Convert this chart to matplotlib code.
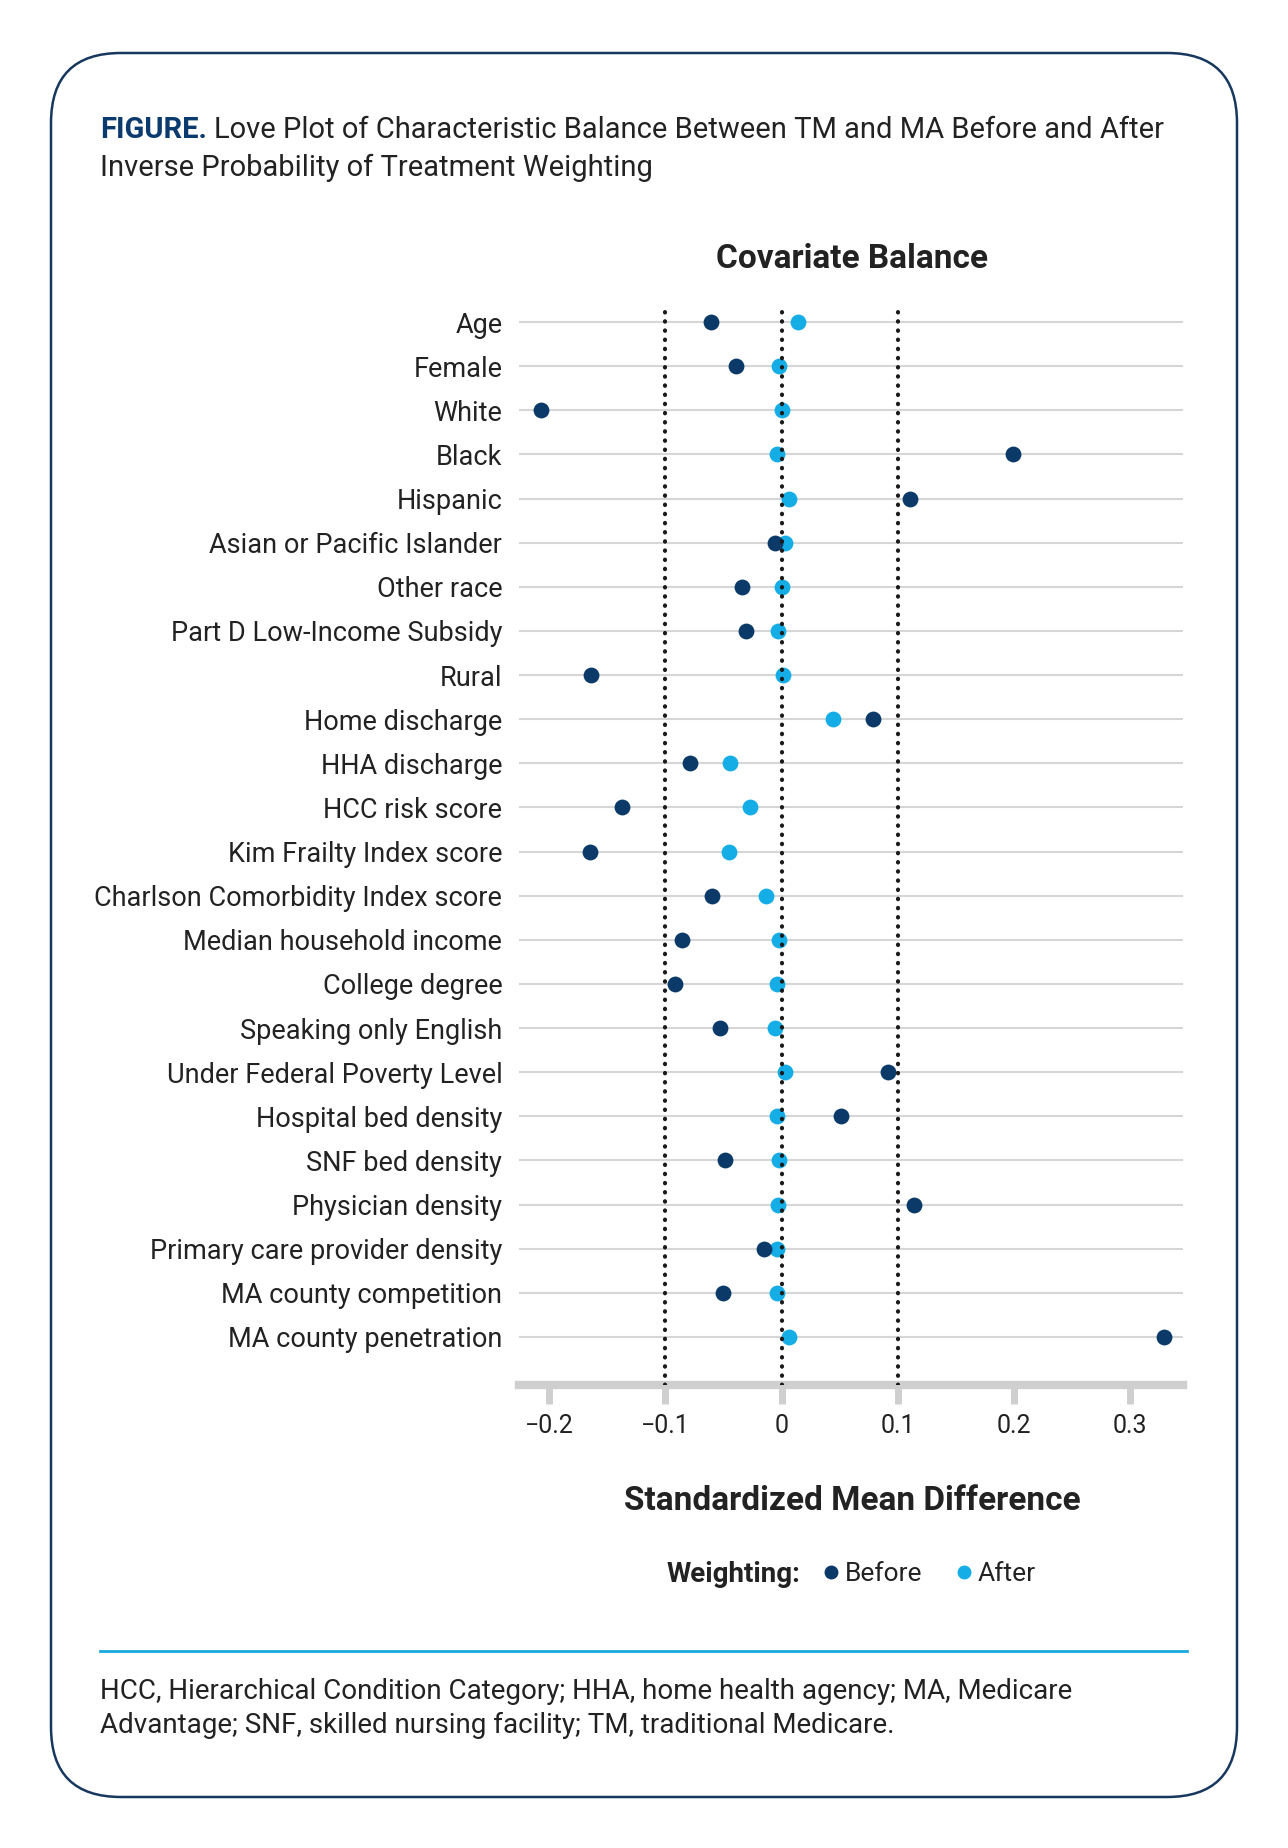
import numpy as np
import matplotlib
matplotlib.use('Agg')
import matplotlib.pyplot as plt
from matplotlib.patches import FancyBboxPatch
from matplotlib.lines import Line2D

plt.rcParams['font.family'] = ['Roboto', 'DejaVu Sans']

# data
covariates = ['Age', 'Female', 'White', 'Black', 'Hispanic', 'Asian or Pacific Islander',
              'Other race', 'Part D Low-Income Subsidy', 'Rural', 'Home discharge',
              'HHA discharge', 'HCC risk score', 'Kim Frailty Index score',
              'Charlson Comorbidity Index score', 'Median household income', 'College degree',
              'Speaking only English', 'Under Federal Poverty Level', 'Hospital bed density',
              'SNF bed density', 'Physician density', 'Primary care provider density',
              'MA county competition', 'MA county penetration']
smd_before = [-0.061, -0.039, -0.207, 0.199, 0.111, -0.006, -0.034, -0.031, -0.164, 0.079,
              -0.079, -0.137, -0.165, -0.060, -0.086, -0.092, -0.053, 0.092, 0.051, -0.049,
              0.114, -0.015, -0.050, 0.329]
smd_after = [0.014, -0.002, 0.000, -0.004, 0.006, 0.003, 0.000, -0.003, 0.001, 0.044,
             -0.044, -0.027, -0.045, -0.013, -0.002, -0.004, -0.006, 0.003, -0.004, -0.002,
             -0.003, -0.004, -0.004, 0.006]
thresholds = [-0.1, 0, 0.1]
tick_vals = [-0.2, -0.1, 0, 0.1, 0.2, 0.3]
tick_labels = ['\u22120.2', '\u22120.1', '0', '0.1', '0.2', '0.3']

dark = '#0b3a68'
light = '#15ade6'
navy = '#17375e'
txt = '#222222'

W, H = 1288, 1848
fig = plt.figure(figsize=(W / 100, H / 100), dpi=100)
fig.patch.set_facecolor('white')

# background layer in pixel coords: rounded frame + separator
bg = fig.add_axes([0, 0, 1, 1])
bg.set_xlim(0, W)
bg.set_ylim(H, 0)
bg.axis('off')
bg.add_patch(FancyBboxPatch((51, 53), 1186, 1744,
                            boxstyle='round,pad=0,rounding_size=70',
                            fc='none', ec=navy, lw=1.8))
bg.plot([100, 1187], [1651, 1651], color='#1aa7dc', lw=2)

ax = fig.add_axes([519 / W, 1 - 1385 / H, 664 / W, (1385 - 304) / H])
ax.set_zorder(2)
ax.patch.set_alpha(0)
y = np.arange(len(covariates))

for yy in y:
    ax.axhline(yy, color='#d6d6d6', lw=1.5, zorder=1)
ax.scatter(smd_after, y, s=130, color=light, zorder=3, linewidths=0)
ax.scatter(smd_before, y, s=130, color=dark, zorder=3, linewidths=0)
for t in thresholds:
    ax.axvline(t, color='#1a1a1a', lw=3, linestyle=(0, (0.1, 2.1)),
               dash_capstyle='round', zorder=4)

ax.set_xlim(-0.226, 0.3456)
ax.set_ylim(23 + 48 / 44.13, -18 / 44.13)
ax.set_yticks(y)
ax.set_yticklabels(covariates)
ax.set_xticks(tick_vals)
ax.set_xticklabels(tick_labels)
ax.tick_params(axis='y', length=0, pad=12, labelsize=19.5, labelcolor=txt)
ax.tick_params(axis='x', length=14, width=5, color='#cfcfcf', pad=7,
               labelsize=18, labelcolor=txt)
for s in ['left', 'top', 'right']:
    ax.spines[s].set_visible(False)
ax.spines['bottom'].set_color('#cfcfcf')
ax.spines['bottom'].set_linewidth(6)

# header
t1 = fig.text(100 / W, 1 - 130 / H, 'FIGURE.', weight='bold', color='#0b3a6e',
              size=21, va='center')
fig.canvas.draw()
bb = t1.get_window_extent()
fig.text((bb.x1 + 7) / W, 1 - 130 / H,
         'Love Plot of Characteristic Balance Between TM and MA Before and After',
         size=21, va='center', color=txt)
fig.text(100 / W, 1 - 168 / H, 'Inverse Probability of Treatment Weighting',
         size=21, va='center', color=txt)

fig.text(852 / W, 1 - 259.5 / H, 'Covariate Balance', weight='bold', size=24,
         ha='center', va='center', color=txt)
fig.text(852 / W, 1 - 1501 / H, 'Standardized Mean Difference', weight='bold', size=24,
         ha='center', va='center', color=txt)

# legend
fig.text(667 / W, 1 - 1574 / H, 'Weighting:', weight='bold', size=20, va='center', color=txt)
handles = [Line2D([], [], marker='o', ls='none', color=dark, markersize=9),
           Line2D([], [], marker='o', ls='none', color=light, markersize=9)]
leg = fig.legend(handles, ['Before', 'After'], loc='center left',
                 bbox_to_anchor=(818 / W, 1 - 1574 / H), ncol=2, frameon=False,
                 handletextpad=0.0, columnspacing=1.1, handlelength=1,
                 fontsize=19, borderaxespad=0, borderpad=0)
for tx in leg.get_texts():
    tx.set_color(txt)

# footnote
fig.text(100 / W, 1 - 1691.5 / H,
         'HCC, Hierarchical Condition Category; HHA, home health agency; MA, Medicare',
         size=20, va='center', color=txt)
fig.text(100 / W, 1 - 1725.5 / H,
         'Advantage; SNF, skilled nursing facility; TM, traditional Medicare.',
         size=20, va='center', color=txt)

fig.savefig('out.png', dpi=100)
